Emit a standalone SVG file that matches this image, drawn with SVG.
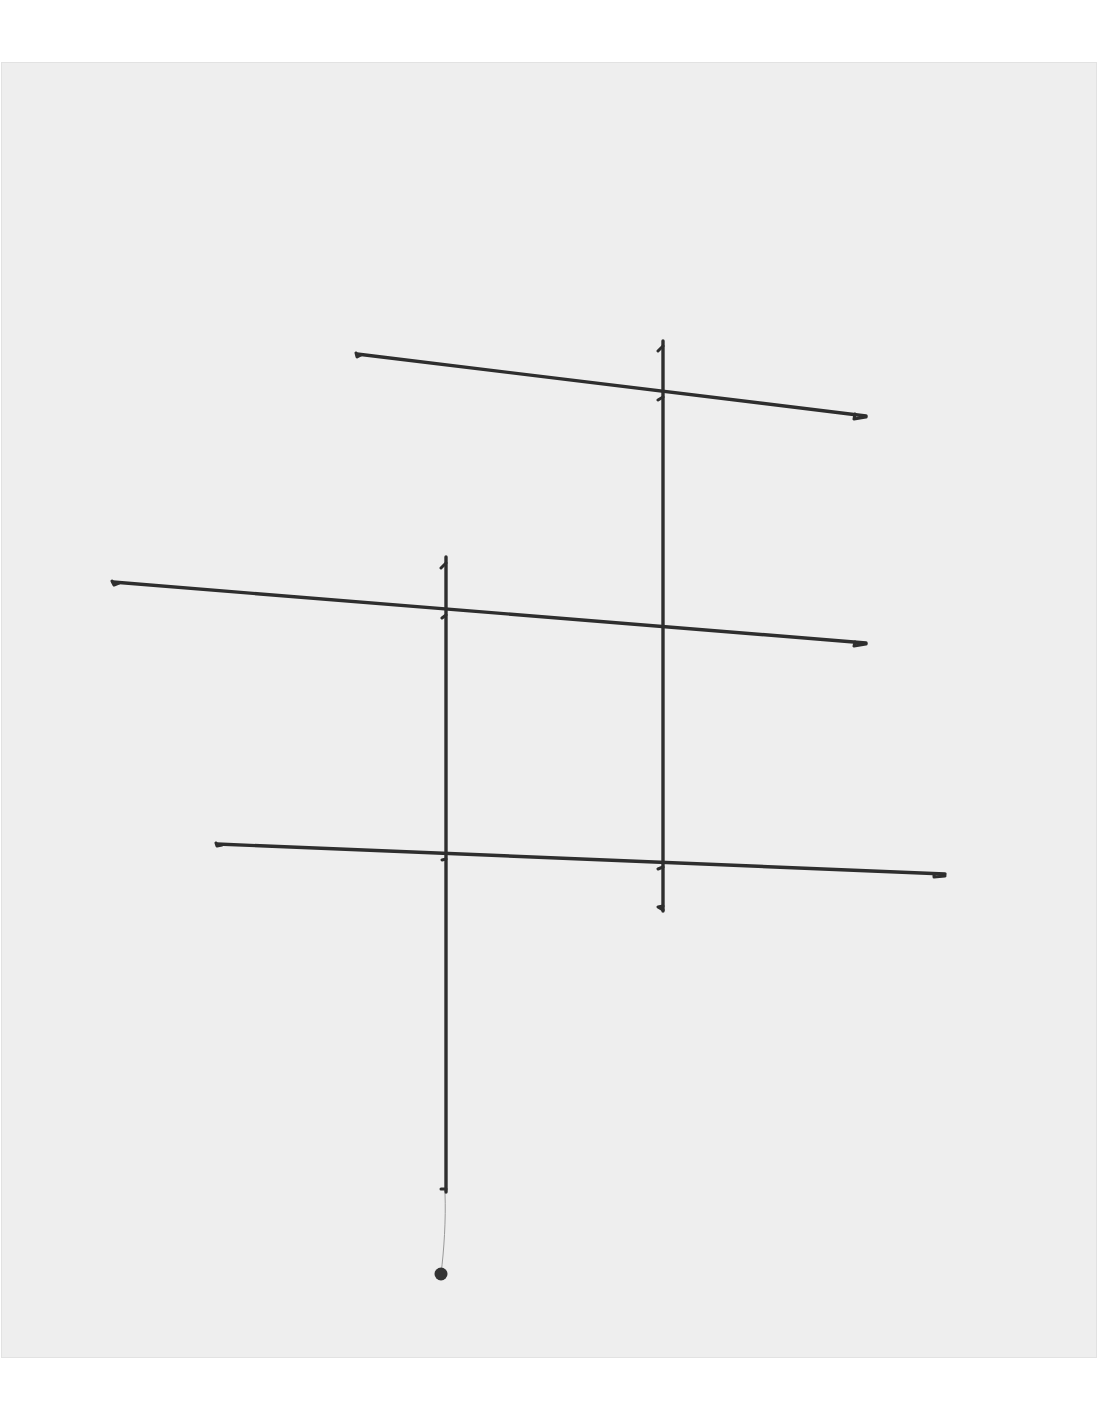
<svg xmlns="http://www.w3.org/2000/svg" width="1100" height="1422" viewBox="0 0 1100 1422">
<style>
.bar{stroke:#2e2e2e;stroke-width:3.4;fill:none;stroke-linecap:round}
.tick{stroke:#2e2e2e;stroke-width:3;fill:none;stroke-linecap:round;stroke-linejoin:round}
.thread{stroke:#9a9a9a;stroke-width:1;fill:none}
</style>
<rect x="0" y="0" width="1100" height="1422" fill="#ffffff"/>
<rect x="1.5" y="62.5" width="1095" height="1295" fill="#eeeeee" stroke="#e2e2e2" stroke-width="1"/>
<g id="connectors">
<path class="thread" d="M445,1193 C446,1220 444,1250 441,1274"/>
</g>
<g id="bar-top">
<line class="bar" x1="357" y1="354" x2="866" y2="416"/>
<path class="tick" d="M356,353 l1,4 l4,-2 M855,414 l-1,5 l12,-2"/>
</g>
<g id="bar-middle">
<line class="bar" x1="113" y1="582" x2="866" y2="643"/>
<path class="tick" d="M112,581 l2,4 l5,-2 M855,642 l-1,4 l12,-2"/>
</g>
<g id="bar-bottom">
<line class="bar" x1="217" y1="844" x2="945" y2="874"/>
<path class="tick" d="M216,843 l1,3 l5,-1 M934,874 l0,3 l11,-1"/>
</g>
<g id="rod-right">
<line class="bar" x1="663" y1="341" x2="663" y2="911"/>
<path class="tick" d="M663,346 l-5,5 M663,397 l-5,3 M663,867 l-5,2 M663,906 l-5,1 l5,3"/>
</g>
<g id="rod-left">
<line class="bar" x1="446" y1="557" x2="446" y2="1192"/>
<path class="tick" d="M446,563 l-5,5 M446,615 l-4,3 M446,859 l-4,1 M446,1189 l-5,0"/>
</g>
<g id="weight">
<circle cx="441" cy="1274" r="6.5" fill="#333333"/>
</g>
</svg>
